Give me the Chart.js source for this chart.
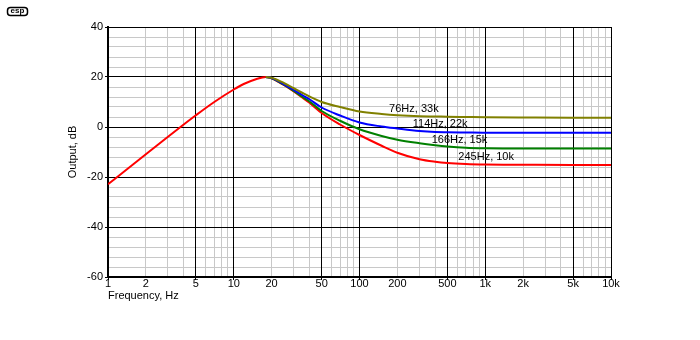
<!DOCTYPE html>
<html><head><meta charset="utf-8">
<script src="https://cdn.jsdelivr.net/npm/chart.js@4/dist/chart.umd.min.js"></script>
<style>html,body{margin:0;padding:0;background:#fff}#wrap{width:700px;height:340px;position:relative}</style>
</head><body><div id="wrap"><canvas id="c" width="700" height="340"></canvas></div>
<script>
// Frequencies (Hz)
const frequencies = [1,1.5,2,3,4,5,7,10,12,15,18,20,25,30,35,40,50,70,100,150,200,300,400,500,700,1000,2000,5000,10000];
// Output, dB for each network
const red245Hz10k   = [-22.9,-15.9,-10.9,-3.9,1.0,4.7,10.0,15,17.2,19.1,20,19.5,16.8,14.2,11.8,9.7,5.6,1.0,-3.2,-7.5,-10.3,-12.9,-13.9,-14.4,-14.8,-15,-15.1,-15.2,-15.2];
const green166Hz15k = [null,null,null,null,null,null,null,null,null,null,20,19.5,16.9,14.4,12.1,10.2,6.4,2.5,-0.9,-3.6,-5.1,-6.5,-7.3,-7.8,-8.3,-8.5,-8.6,-8.6,-8.6];
const blue114Hz22k  = [null,null,null,null,null,null,null,null,null,null,20,19.6,17.1,14.8,12.8,11.1,7.8,4.6,1.8,0.2,-0.6,-1.6,-2.0,-2.1,-2.2,-2.3,-2.3,-2.3,-2.3];
const olive76Hz33k  = [null,null,null,null,null,null,null,null,null,null,20,19.7,17.6,15.5,13.7,12.2,10.0,8.0,6.2,5.2,4.7,4.3,4.2,4.1,4.0,3.9,3.8,3.7,3.7];

const xTickValues = [1,2,5,10,20,50,100,200,500,1000,2000,5000,10000];
const xTickLabels = ['1','2','5','10','20','50','100','200','500','1k','2k','5k','10k'];
const xMajorGrid  = [1,5,10,50,100,500,1000,5000,10000];
const yTickValues = [-60,-40,-20,0,20,40];

const seriesNames = ['76Hz, 33k','114Hz, 22k','166Hz, 15k','245Hz, 10k'];
const labelFreq   = [172,265,375,611];
const labelDb     = [7.3,1.1,-5.2,-12.0];

const FONT = {family:"'Liberation Sans', Arial, sans-serif", size:11};
const toPts = arr => frequencies.map((f,i)=>({x:f,y:arr[i]}));
const align = p => Math.round(p - 0.5) + 0.5;

const majorGridPlugin = {
  id:'majorGrid',
  beforeDatasetsDraw(chart){
    const {ctx, chartArea:a, scales:{x,y}} = chart;
    ctx.save();
    ctx.strokeStyle = '#000';
    ctx.lineWidth = 1;
    ctx.beginPath();
    xMajorGrid.forEach(v=>{
      const px = align(x.getPixelForValue(v));
      ctx.moveTo(px, a.top); ctx.lineTo(px, a.bottom);
    });
    yTickValues.forEach(v=>{
      const py = align(y.getPixelForValue(v));
      ctx.moveTo(a.left, py); ctx.lineTo(a.right, py);
    });
    ctx.stroke();
    ctx.restore();
  }
};

const labelPlugin = {
  id:'curveLabels',
  afterDatasetsDraw(chart){
    const {ctx, scales:{x,y}} = chart;
    ctx.save();
    ctx.font = "11px 'Liberation Sans', Arial, sans-serif";
    ctx.fillStyle = '#000';
    ctx.textAlign = 'left';
    ctx.textBaseline = 'middle';
    seriesNames.forEach((t,i)=>{
      ctx.fillText(t, x.getPixelForValue(labelFreq[i]), y.getPixelForValue(labelDb[i]));
    });
    ctx.restore();
  },
  afterDraw(chart){
    const ctx = chart.ctx;
    ctx.save();
    ctx.strokeStyle = '#000';
    ctx.lineWidth = 1.5;
    ctx.beginPath();
    ctx.roundRect(7.5,7.5,20,8,3);
    ctx.stroke();
    ctx.fillStyle = '#000';
    ctx.font = "bold 8px 'Liberation Sans', Arial, sans-serif";
    ctx.textAlign = 'center';
    ctx.textBaseline = 'middle';
    ctx.fillText('esp', 17.5, 11);
    ctx.restore();
  }
};

new Chart(document.getElementById('c'), {
  type:'line',
  data:{
    datasets:[
      {data:toPts(olive76Hz33k), borderColor:'#808000'},
      {data:toPts(blue114Hz22k), borderColor:'#0000ff'},
      {data:toPts(green166Hz15k), borderColor:'#008000'},
      {data:toPts(red245Hz10k), borderColor:'#ff0000'}
    ].map(d=>Object.assign(d,{borderWidth:2,pointRadius:0,cubicInterpolationMode:'monotone',fill:false}))
  },
  options:{
    responsive:false, animation:false, devicePixelRatio:1,
    layout:{padding:{left:0,right:89,top:27,bottom:18}},
    plugins:{legend:{display:false}, tooltip:{enabled:false}},
    scales:{
      x:{
        type:'logarithmic', min:1, max:10000,
        afterBuildTicks(scale){
          const t=[];
          for(let d=1; d<10000; d*=10) for(let m=1;m<10;m++) t.push({value:m*d});
          t.push({value:10000});
          scale.ticks=t;
        },
        afterFit(scale){ scale.height=45; },
        ticks:{autoSkip:false, maxRotation:0, minRotation:0, padding:-3, color:'#000', font:FONT,
          callback(v){ const i=xTickValues.indexOf(v); return i>=0?xTickLabels[i]:''; }},
        grid:{
          color:c=>xMajorGrid.includes(c.tick&&c.tick.value)?'#000':'#c8c8c8',
          tickColor:c=>xMajorGrid.includes(c.tick&&c.tick.value)?'#000':'rgba(0,0,0,0)',
          tickLength:3, lineWidth:1
        },
        border:{color:'#000', width:2},
        title:{display:true, text:'Frequency, Hz', align:'start', color:'#000', font:FONT, padding:{top:0,bottom:19}}
      },
      y:{
        type:'linear', min:-60, max:40,
        afterBuildTicks(scale){
          const t=[];
          for(let v=-60; v<=40; v+=4) t.push({value:v});
          scale.ticks=t;
        },
        afterFit(scale){ scale.width=108; },
        ticks:{autoSkip:false, padding:2, color:'#000', font:FONT,
          callback(v){ return yTickValues.includes(v)?String(v):''; }},
        grid:{
          color:c=>(c.tick&&c.tick.value%20===0)?'#000':'#c8c8c8',
          tickColor:c=>(c.tick&&c.tick.value%20===0)?'#000':'rgba(0,0,0,0)',
          tickLength:3, lineWidth:1
        },
        border:{color:'#000', width:2},
        title:{display:true, text:'Output, dB', color:'#000', font:FONT, padding:{top:66,bottom:0}}
      }
    }
  },
  plugins:[majorGridPlugin, labelPlugin]
});
</script>
</body></html>
